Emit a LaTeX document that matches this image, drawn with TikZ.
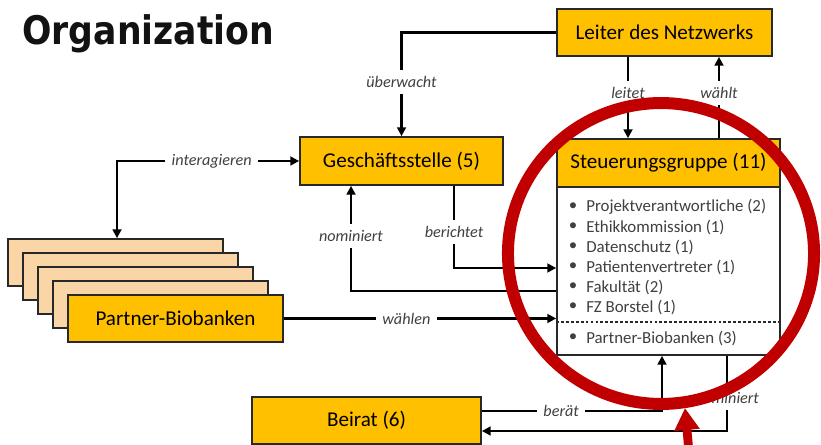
\documentclass[tikz,border=0pt]{standalone}
\usepackage{fontspec}
\setmainfont{Carlito}
\newfontfamily\titlefont{DejaVu Sans}
\usetikzlibrary{arrows.meta, positioning}
\definecolor{boxorange}{RGB}{255,192,0}
\definecolor{peach}{RGB}{250,214,166}
\definecolor{ringred}{RGB}{192,0,0}
\definecolor{txtgray}{RGB}{64,64,64}
\definecolor{edgegray}{RGB}{40,40,40}
\tikzset{
  orgbox/.style={draw=edgegray, line width=1.2pt, fill=boxorange, inner sep=0pt,
    font=\fontsize{15}{18}\selectfont, text=black},
  backbox/.style={orgbox, fill=peach},
  conn/.style={line width=1.9pt, -{Triangle[length=2.2mm,width=2.2mm]}},
  lbl/.style={fill=white, inner sep=4.5pt, font=\itshape\fontsize{11.5}{13}\selectfont, text=txtgray},
  item/.style={anchor=west, inner sep=0pt, font=\fontsize{12}{14}\selectfont, text=txtgray}
}

\begin{document}
\begin{tikzpicture}[x=0.025cm, y=-0.025cm]
\useasboundingbox (0,0) rectangle (821,445);

% title
\node[anchor=base west, inner sep=0pt, text=black!93,
  font=\titlefont\bfseries\fontsize{28}{32}\selectfont] (title) at (22,45)
  {\scalebox{0.88}[1]{Organization}};

% boxes
\node[orgbox, minimum width=5.375cm, minimum height=1.175cm] (leiter) at (664.5,32.5) {Leiter des Netzwerks};
\node[orgbox, minimum width=5.075cm, minimum height=1.2cm] (gs) at (401.5,161) {Geschäftsstelle (5)};
\node[orgbox, fill=white, minimum width=5.575cm, minimum height=4.2cm] (steubody) at (668.5,271) {};
\node[orgbox, minimum width=5.575cm, minimum height=1.2cm] (steu) at (668.5,163) {Steuerungsgruppe (11)};
\foreach \i in {1,...,4}
  \node[backbox, minimum width=5.375cm, minimum height=1.175cm] (pb\i) at ({100.5+15*\i},{248.5+14*\i}) {};
\node[orgbox, minimum width=5.375cm, minimum height=1.175cm] (pb) at (175.5,318.5) {Partner-Biobanken};
\node[orgbox, minimum width=5.725cm, minimum height=1.175cm] (beirat) at (366.5,420.5) {Beirat (6)};

% members of the steering group
\foreach \t [count=\k] in {Projektverantwortliche (2), Ethikkommission (1), Datenschutz (1),
    Patientenvertreter (1), Fakultät (2), FZ Borstel (1)} {
  \node[item, anchor=center] (b\k) at (573,{187+20*\k}) {\textbullet};
  \node[item] (it\k) at (586,{187+20*\k}) {\t};
}
\coordinate (rDash) at (0,322);
\draw[dash pattern=on 2pt off 1.5pt, edgegray, line width=0.9pt] (steubody.west |- rDash) -- (steubody.east |- rDash);
\node[item, anchor=center] (b7) at (573,338) {\textbullet};
\node[item] (it7) at (586,338) {Partner-Biobanken (3)};

% columns and rows of the connectors
\coordinate (cLeitet) at (628,0);
\coordinate (cWaehlt) at (719,0);
\coordinate (cInter) at (117,0);
\coordinate (cNomG) at (351,0);
\coordinate (cBer) at (454,0);
\coordinate (cBeraet) at (662,0);
\coordinate (cNomB) at (727,0);
\coordinate (rBer) at (0,268);
\coordinate (rNom) at (0,291);
\coordinate (rBeraet) at (0,411);
\coordinate (rNomB) at (0,431);

% connectors
\draw[conn] (leiter.west) -| node[lbl, pos=0.74] {überwacht} (gs.north);
\draw[conn] (leiter.south -| cLeitet) -- node[lbl, pos=0.45] {leitet} (steu.north -| cLeitet);
\draw[conn] (steu.north -| cWaehlt) -- node[lbl, pos=0.55] {wählt} (leiter.south -| cWaehlt);
\draw[conn, {Triangle[length=2.2mm,width=2.2mm]}-{Triangle[length=2.2mm,width=2.2mm]}]
  (gs.west) -| node[lbl, pos=0.24] {interagieren} (pb1.north -| cInter);
\draw[conn] (steubody.west |- rNom) -| node[lbl, pos=0.76] {nominiert} (gs.south -| cNomG);
\draw[conn] (gs.south -| cBer) |- node[lbl, pos=0.28] {berichtet} (steubody.west |- rBer);
\draw[conn] (pb.east) -- node[lbl, pos=0.45] {wählen} (steubody.west |- pb.east);
\draw[conn] (beirat.east |- rBeraet) -| node[lbl, pos=0.22] {berät} (steubody.south -| cBeraet);
\draw[conn] (steubody.south -| cNomB) |- node[lbl, pos=0.28] {nominiert} (beirat.east |- rNomB);

% red highlight
\draw[ringred, line width=0.3cm] (661,253.5) ellipse [x radius=3.825cm, y radius=3.76cm];
\coordinate (tipfoot) at (689,452);
\coordinate (tiphead) at (685,408);
\draw[ringred, line width=0.22cm, -{Triangle[length=0.55cm,width=0.6cm]}] (tipfoot) -- (tiphead);
\end{tikzpicture}
\end{document}
